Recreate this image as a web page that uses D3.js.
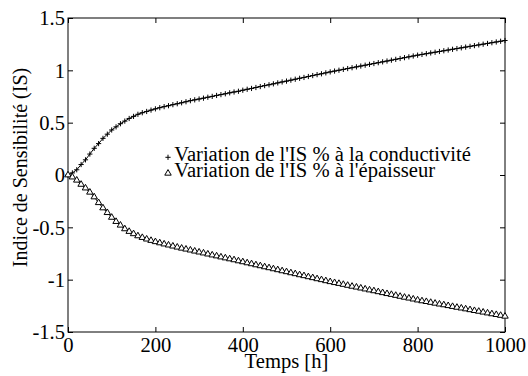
<!DOCTYPE html>
<html>
<head>
  <meta charset="utf-8">
  <title>Indice de Sensibilite</title>
  <style>
  body { margin: 0; background: #fff; }
  .line { fill: none; stroke: #000; stroke-width: 1px; }
  .frame { fill: none; stroke: #000; stroke-width: 1px; }
  </style>
</head>
<body>
  <div id="chart"></div>
  <script src="https://cdn.jsdelivr.net/npm/d3@7"></script>
  <script>
  // time (h), one marker every 10 h
  var hours = [0,10,20,30,40,50,60,70,80,90,100,110,120,130,140,150,160,170,180,190,
    200,210,220,230,240,250,260,270,280,290,300,310,320,330,340,350,360,370,380,390,
    400,410,420,430,440,450,460,470,480,490,500,510,520,530,540,550,560,570,580,590,
    600,610,620,630,640,650,660,670,680,690,700,710,720,730,740,750,760,770,780,790,
    800,810,820,830,840,850,860,870,880,890,900,910,920,930,940,950,960,970,980,990,1000];

  // variation of IS % with conductivity (+)
  var conductivite = [0,0.02,0.05,0.10,0.145,0.20,0.255,0.30,0.35,0.39,0.43,0.46,0.49,0.515,0.54,0.56,0.58,0.595,0.607,0.62,
    0.632,0.643,0.653,0.662,0.672,0.681,0.69,0.70,0.71,0.718,0.726,0.734,0.743,0.751,0.76,0.768,0.776,0.785,0.793,0.80,
    0.81,0.819,0.827,0.836,0.845,0.854,0.862,0.871,0.88,0.889,0.897,0.906,0.915,0.924,0.932,0.941,0.95,0.959,0.967,0.976,
    0.985,0.993,1.001,1.009,1.017,1.025,1.033,1.041,1.049,1.057,1.065,1.073,1.081,1.089,1.097,1.105,1.113,1.121,1.129,1.137,
    1.145,1.152,1.159,1.166,1.173,1.18,1.187,1.194,1.201,1.208,1.215,1.222,1.229,1.236,1.243,1.25,1.257,1.264,1.271,1.278,1.285];

  // variation of IS % with thickness (triangles)
  var epaisseur = [0,-0.02,-0.05,-0.09,-0.125,-0.165,-0.21,-0.265,-0.315,-0.36,-0.405,-0.445,-0.48,-0.515,-0.54,-0.562,-0.582,-0.598,-0.613,-0.626,
    -0.638,-0.649,-0.66,-0.67,-0.68,-0.69,-0.70,-0.709,-0.718,-0.728,-0.737,-0.746,-0.756,-0.765,-0.774,-0.784,-0.793,-0.802,-0.811,-0.821,
    -0.83,-0.84,-0.849,-0.859,-0.868,-0.878,-0.887,-0.897,-0.906,-0.916,-0.925,-0.935,-0.944,-0.954,-0.963,-0.973,-0.982,-0.992,-1.001,-1.011,
    -1.02,-1.029,-1.037,-1.046,-1.055,-1.064,-1.072,-1.081,-1.09,-1.099,-1.107,-1.116,-1.125,-1.134,-1.142,-1.151,-1.16,-1.169,-1.177,-1.186,
    -1.195,-1.203,-1.21,-1.218,-1.226,-1.234,-1.241,-1.249,-1.257,-1.265,-1.272,-1.28,-1.288,-1.296,-1.303,-1.311,-1.319,-1.327,-1.334,-1.342,-1.35];

  var xTicks = [0,200,400,600,800,1000];
  var yTicks = [-1.5,-1,-0.5,0,0.5,1,1.5];
  var legendLabels = ["Variation de l'IS % à la conductivité", "Variation de l'IS % à l'épaisseur"];

  var width = 528, height = 376;
  var margin = {top: 18, right: 23, bottom: 44, left: 68};
  var w = width - margin.left - margin.right;
  var h = height - margin.top - margin.bottom;
  var fs = 20;
  var font = "'Liberation Serif'";
  var stretch = 1.03; // the reference text is a touch wide

  var svg = d3.select("#chart").append("svg")
    .attr("width", width)
    .attr("height", height);

  var g = svg.append("g")
    .attr("transform", "translate(" + margin.left + "," + margin.top + ")");

  var x = d3.scaleLinear().domain([0, 1000]).range([0, w]);
  var y = d3.scaleLinear().domain([-1.5, 1.5]).range([h, 0]);

  function fmt(d) { return String(d); }

  //widen horizontal texts a little
  function widen(sel) {
    sel.each(function() {
      var len = this.getComputedTextLength();
      d3.select(this).attr("textLength", len * stretch).attr("lengthAdjust", "spacingAndGlyphs");
    });
  }

  //axes with inward ticks on all four sides (box)
  var tick = 5;
  var axB = g.append("g").attr("transform", "translate(0," + h + ")")
    .call(d3.axisBottom(x).tickValues(xTicks).tickFormat(fmt).tickSizeInner(-tick).tickSizeOuter(0));
  var axT = g.append("g")
    .call(d3.axisTop(x).tickValues(xTicks).tickFormat("").tickSizeInner(-tick).tickSizeOuter(0));
  var axL = g.append("g")
    .call(d3.axisLeft(y).tickValues(yTicks).tickFormat(fmt).tickSizeInner(-tick).tickSizeOuter(0).tickPadding(3));
  var axR = g.append("g").attr("transform", "translate(" + w + ",0)")
    .call(d3.axisRight(y).tickValues(yTicks).tickFormat("").tickSizeInner(-tick).tickSizeOuter(0));

  [axB, axT, axL, axR].forEach(function(a) {
    a.attr("font-family", null);
    a.select(".domain").remove();
    a.selectAll("line").attr("stroke", "#000");
    a.selectAll("text").attr("font-size", fs).style("font-family", font).attr("fill", "#000");
  });
  axB.selectAll("text").attr("y", 19.7).attr("dy", 0);
  axL.selectAll("text").attr("dy", "0.34em");
  widen(axB.selectAll("text"));
  widen(axL.selectAll("text"));

  g.append("rect").attr("class", "frame")
    .attr("x", 0).attr("y", 0).attr("width", w).attr("height", h);

  //lines
  var pts1 = hours.map(function(t, i) { return [t, conductivite[i]]; });
  var pts2 = hours.map(function(t, i) { return [t, epaisseur[i]]; });
  var line = d3.line().x(function(d) { return x(d[0]); }).y(function(d) { return y(d[1]); });

  g.append("path").datum(pts1).attr("class", "line").attr("d", line);
  g.append("path").datum(pts2).attr("class", "line").attr("d", line);

  function plusPath(s) { return "M" + (-s) + ",0H" + s + "M0," + (-s) + "V" + s; }
  var tri = d3.symbol().type(d3.symbolTriangle).size(18);

  g.append("g").selectAll("path").data(pts1).join("path")
    .attr("transform", function(d) { return "translate(" + x(d[0]) + "," + y(d[1]) + ")"; })
    .attr("d", plusPath(2.6))
    .attr("fill", "none").attr("stroke", "#000").attr("stroke-width", 1);

  g.append("g").selectAll("path").data(pts2).join("path")
    .attr("transform", function(d) { return "translate(" + x(d[0]) + "," + y(d[1]) + ")"; })
    .attr("d", tri())
    .attr("fill", "#fff").attr("stroke", "#000").attr("stroke-width", 1);

  //legend
  var leg = g.append("g").attr("transform", "translate(100,139.3)");
  leg.append("path").attr("d", plusPath(2.6))
    .attr("fill", "none").attr("stroke", "#000");
  leg.append("path").attr("d", tri()).attr("transform", "translate(0,16)")
    .attr("fill", "#fff").attr("stroke", "#000");
  var legText = leg.selectAll("text").data(legendLabels).join("text")
    .attr("x", 6.3).attr("y", function(d, i) { return 3.4 + i * 16.6; })
    .attr("font-size", fs).style("font-family", font)
    .text(function(d) { return d; });
  widen(legText);

  //axis labels
  var xl = svg.append("text")
    .attr("x", margin.left + w / 2).attr("y", 368)
    .attr("text-anchor", "middle").attr("font-size", fs).style("font-family", font)
    .text("Temps [h]");
  widen(xl);
  svg.append("text")
    .attr("transform", "translate(27,167.5) rotate(-90)")
    .attr("text-anchor", "middle").attr("font-size", fs).style("font-family", font)
    .text("Indice de Sensibilité (IS)");
  </script>
</body>
</html>
